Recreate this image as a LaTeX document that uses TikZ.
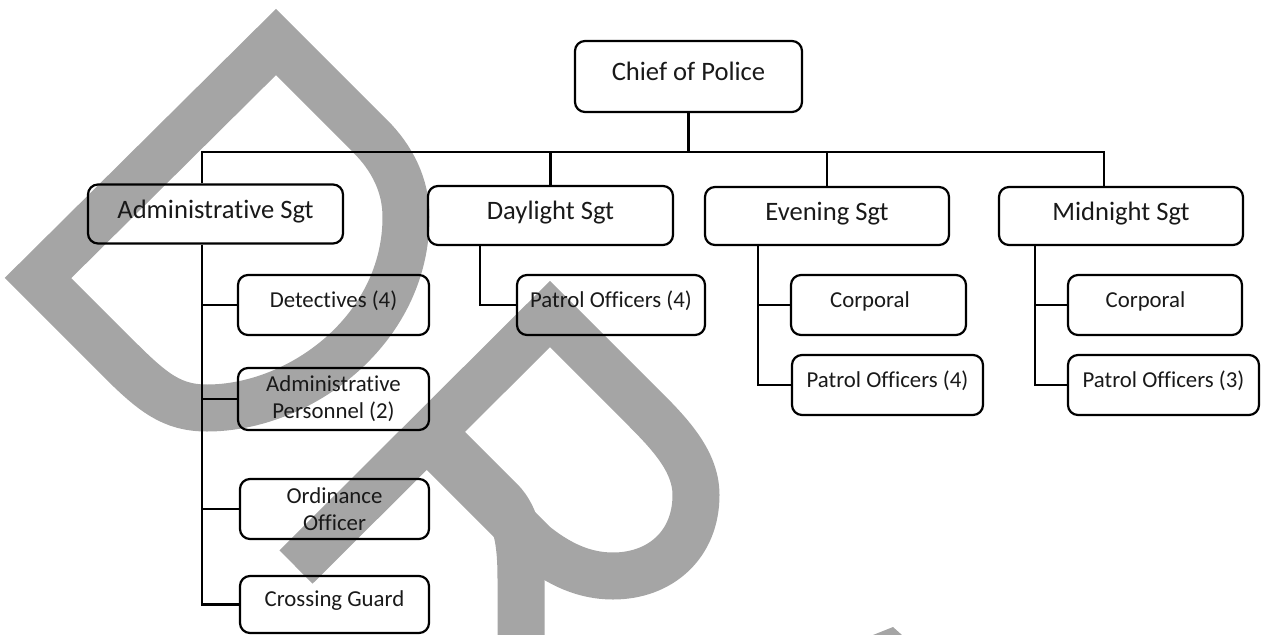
\documentclass[tikz,border=0pt]{standalone}
\usepackage{fontspec}
\setmainfont{Carlito}[Ligatures=NoCommon]
\definecolor{wm}{RGB}{165,165,165}
\definecolor{ink}{RGB}{25,25,25}
\begin{document}
\begin{tikzpicture}[x=1pt,y=-1pt,
  box/.style={draw=black, line width=2.2pt, rounded corners=10pt, rectangle, inner sep=0pt, text=ink},
  lvA/.style={box, font=\fontsize{26.6pt}{32pt}\selectfont, text height=18pt, text depth=10pt},
  lvB/.style={box, font=\fontsize{22.8pt}{27pt}\selectfont, text height=14pt, text depth=10pt},
  lvBB/.style={box, font=\fontsize{22.8pt}{27pt}\selectfont, align=center},
  conn/.style={draw=black, line width=2.2pt, line join=miter},
  wmark/.style={draw=wm, line width=47pt, line join=miter}]
\useasboundingbox (0,0) rectangle (1262,635);

% watermark "DR(A)"
\draw[wmark] (38,278) -- (276,42) -- (370,136) .. controls (392,158) and (406,185) .. (406,217)
  .. controls (406,330) and (300,408) .. (207,408) .. controls (172,408) and (153,393) .. (118,358) -- cycle;
\draw[wmark] (296,567) -- (550,314) -- (640,404) .. controls (668,432) and (696,460) .. (696,495)
  .. controls (696,545) and (660,576) .. (613,576) .. controls (585,576) and (560,565) .. (535,545) -- (427,437);
\draw[wmark] (440,440) -- (500,500) .. controls (518,518) and (521,545) .. (521,580) -- (521,660);
\fill[wm] (873,635) -- (893,627) -- (902,635) -- cycle;

% nodes
\node[lvA, minimum width=227pt, minimum height=71pt] (chief) at (688.5,76.5) {Chief of Police};
\node[lvA, minimum width=255pt, minimum height=59pt] (admin) at (215.5,214) {Administrative Sgt};
\node[lvA, minimum width=245pt, minimum height=59pt] (day) at (550.5,215.5) {Daylight Sgt};
\node[lvA, minimum width=244pt, minimum height=58pt] (eve) at (827,216) {Evening Sgt};
\node[lvA, minimum width=244pt, minimum height=58pt] (mid) at (1121,216) {Midnight Sgt};

\node[lvB, minimum width=191pt, minimum height=60pt] (det) at (333.5,305) {Detectives (4)};
\node[lvBB, minimum width=191pt, minimum height=62pt] (adp) at (333.5,399) {Administrative\\Personnel (2)};
\node[lvBB, minimum width=189pt, minimum height=60pt] (ord) at (334.5,509) {Ordinance\\Officer};
\node[lvB, minimum width=189pt, minimum height=57pt] (cross) at (334.5,604.5) {Crossing Guard};
\node[lvB, minimum width=188pt, minimum height=60pt] (dpo) at (611,305) {Patrol Officers (4)};
\node[lvB, minimum width=175pt, minimum height=60pt] (ecorp) at (878.5,305) {Corporal\hspace*{17pt}};
\node[lvB, minimum width=191pt, minimum height=60pt] (epo) at (887.5,385) {Patrol Officers (4)};
\node[lvB, minimum width=174pt, minimum height=60pt] (mcorp) at (1155,305) {Corporal\hspace*{19pt}};
\node[lvB, minimum width=191pt, minimum height=60pt] (mpo) at (1163.5,385) {Patrol Officers (3)};

% connectors
\coordinate (busL) at (202,152);
\coordinate (busR) at (1104,152);
\coordinate (dsp) at (480,0);
\coordinate (esp) at (758,0);
\coordinate (msp) at (1035,0);
\draw[conn] (admin.north -| busL) -- (busL) -- (busR) -- (mid.north -| busR);
\draw[conn] (chief.south) -- (chief.south |- busL);
\draw[conn] (day.north |- busL) -- (day.north);
\draw[conn] (eve.north |- busL) -- (eve.north);

\draw[conn] (admin.south -| busL) |- (cross.west);
\draw[conn] (det.west -| busL) -- (det.west);
\draw[conn] (adp.west -| busL) -- (adp.west);
\draw[conn] (ord.west -| busL) -- (ord.west);

\draw[conn] (day.south -| dsp) |- (dpo.west);

\draw[conn] (eve.south -| esp) |- (epo.west);
\draw[conn] (ecorp.west -| esp) -- (ecorp.west);

\draw[conn] (mid.south -| msp) |- (mpo.west);
\draw[conn] (mcorp.west -| msp) -- (mcorp.west);
\end{tikzpicture}
\end{document}
